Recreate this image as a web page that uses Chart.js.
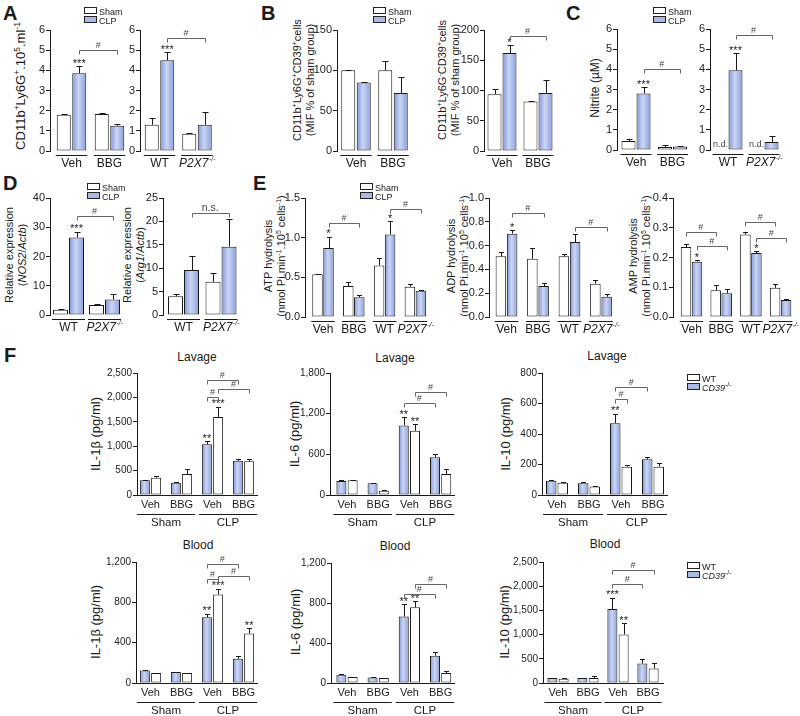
<!DOCTYPE html>
<html>
<head>
<meta charset="utf-8">
<title>Figure</title>
<script src="https://cdn.jsdelivr.net/npm/chart.js@4.4.1/dist/chart.umd.min.js"></script>
<style>
  body { margin:0; width:800px; height:716px; position:relative; overflow:hidden; background:#fff;
         font-family:"Liberation Sans", Arial, Helvetica, sans-serif; color:#1a1a1a; }
  canvas { position:absolute; }
  .lt { position:absolute; font-weight:bold; font-size:20px; line-height:20px; }
  .yt { position:absolute; transform:translate(-50%,-50%) rotate(-90deg); white-space:nowrap;
        font-size:11px; line-height:13px; text-align:center; }
  .yt sup, .lg sup { font-size:7px; vertical-align:4px; line-height:0; }
  .yt.big { font-size:13px; }
  .yt.big sup { font-size:8.5px; vertical-align:5px; }
  .tt { position:absolute; transform:translate(-50%,-50%); font-size:12px; white-space:nowrap; }
  .lg { position:absolute; font-size:9px; line-height:10px; white-space:nowrap; }
  .lg span { display:inline-block; width:11px; height:5px; border:1px solid #222; margin-right:2px; vertical-align:1px; }
</style>
</head>
<body>
<div class="lt" style="left:3px;top:3px">A</div>
<div class="lt" style="left:261px;top:3px">B</div>
<div class="lt" style="left:566px;top:3px">C</div>
<div class="lt" style="left:3px;top:173px">D</div>
<div class="lt" style="left:253px;top:173px">E</div>
<div class="lt" style="left:4px;top:345px">F</div>

<div class="yt big" style="left:20px;top:86px">CD11b<sup>+</sup>Ly6G<sup>+</sup>.10<sup>5</sup>.ml<sup>-1</sup></div>
<div class="yt" style="left:304px;top:80px">CD11b<sup>+</sup>Ly6G<sup>+</sup>CD39<sup>+</sup>cells<br>(MIF % of sham group)</div>
<div class="yt" style="left:449px;top:80px">CD11b<sup>+</sup>Ly6G<sup>-</sup>CD39<sup>+</sup>cells<br>(MIF % of sham group)</div>
<div class="yt" style="left:595px;top:88px;font-size:12px">Nitrite (µM)</div>
<div class="yt" style="left:16px;top:255px">Relative expression<br>(<i>NOS2</i>/<i>Actb</i>)</div>
<div class="yt" style="left:134px;top:255px">Relative expression<br>(<i>Arg1</i>/<i>Actb</i>)</div>
<div class="yt" style="left:275px;top:256px">ATP hydrolysis<br>(nmol Pi.min<sup>-1</sup>.10<sup>5</sup> cells<sup>-1</sup>)</div>
<div class="yt" style="left:458px;top:256px">ADP hydrolysis<br>(nmol Pi.min<sup>-1</sup>.10<sup>5</sup> cells<sup>-1</sup>)</div>
<div class="yt" style="left:640px;top:256px">AMP hydrolysis<br>(nmol Pi.min<sup>-1</sup>.10<sup>5</sup> cells<sup>-1</sup>)</div>
<div class="yt big" style="left:95px;top:434px">IL-1β (pg/ml)</div>
<div class="yt big" style="left:294px;top:434px">IL-6 (pg/ml)</div>
<div class="yt big" style="left:505px;top:434px">IL-10 (pg/ml)</div>
<div class="yt big" style="left:95px;top:622px">IL-1β (pg/ml)</div>
<div class="yt big" style="left:295px;top:622px">IL-6 (pg/ml)</div>
<div class="yt big" style="left:504px;top:622px">IL-10 (pg/ml)</div>

<div class="tt" style="left:197px;top:357px">Lavage</div>
<div class="tt" style="left:395px;top:358px">Lavage</div>
<div class="tt" style="left:607px;top:356px">Lavage</div>
<div class="tt" style="left:198px;top:545px">Blood</div>
<div class="tt" style="left:395px;top:546px">Blood</div>
<div class="tt" style="left:605px;top:544px">Blood</div>

<script>
// ---------- data ----------
const grpVB = ["Veh", "BBG"];
const grpKO = ["WT", "P2X7-/-"];
const grpE = ["Veh", "BBG", "WT", "P2X7-/-"];
const grpF = ["Veh", "BBG", "Veh", "BBG"];
const grpFOuter = ["Sham", "CLP"];

const ticksA = [0, 1, 2, 3, 4, 5, 6];
const ticksB1 = [0, 50, 100, 150];
const ticksB2 = [0, 50, 100, 150, 200];
const ticksD1 = [0, 10, 20, 30, 40];
const ticksD2 = [0, 5, 10, 15, 20, 25];
const ticksE1 = [0, 0.5, 1.0, 1.5];
const ticksE2 = [0, 0.2, 0.4, 0.6, 0.8, 1.0];
const ticksE3 = [0, 0.1, 0.2, 0.3, 0.4];
const ticksF2500 = [0, 500, 1000, 1500, 2000, 2500];
const ticksF1800 = [0, 600, 1200, 1800];
const ticksF800 = [0, 200, 400, 600, 800];
const ticksF1200 = [0, 400, 800, 1200];

// A
const a1Sham = [1.80, 1.83], a1ShamSd = [0.05, 0.03];
const a1Clp = [3.85, 1.25], a1ClpSd = [0.35, 0.08];
const a2Sham = [1.30, 0.85], a2ShamSd = [0.35, 0.03];
const a2Clp = [4.50, 1.30], a2ClpSd = [0.40, 0.62];
// B
const b1Sham = [100, 100], b1ShamSd = [0.5, 11];
const b1Clp = [85, 72], b1ClpSd = [1, 20];
const b2Sham = [94, 82], b2ShamSd = [8, 1];
const b2Clp = [162, 96], b2ClpSd = [13, 21];
// C (sham not detected in the knockout panel)
const c1Sham = [0.45, 0.15], c1ShamSd = [0.08, 0.10];
const c1Clp = [2.80, 0.17], c1ClpSd = [0.30, 0.05];
const c2Sham = [null, null];
const c2Clp = [3.95, 0.40], c2ClpSd = [0.85, 0.30];
// D
const d1Sham = [1.8, 3.4], d1ShamSd = [0.3, 0.3];
const d1Clp = [26.5, 5.3], d1ClpSd = [1.9, 1.9];
const d2Sham = [4.0, 7.1], d2ShamSd = [0.4, 1.9];
const d2Clp = [9.6, 14.6], d2ClpSd = [3.1, 6.0];
// E
const e1Sham = [0.54, 0.39, 0.65, 0.38], e1ShamSd = [0.005, 0.05, 0.09, 0.04];
const e1Clp = [0.87, 0.25, 1.04, 0.33], e1ClpSd = [0.14, 0.03, 0.17, 0.01];
const e2Sham = [0.51, 0.49, 0.51, 0.28], e2ShamSd = [0.035, 0.09, 0.02, 0.035];
const e2Clp = [0.70, 0.26, 0.63, 0.17], e2ClpSd = [0.03, 0.025, 0.07, 0.02];
const e3Sham = [0.235, 0.09, 0.277, 0.098], e3ShamSd = [0.01, 0.018, 0.008, 0.013];
const e3Clp = [0.186, 0.08, 0.215, 0.057], e3ClpSd = [0.005, 0.014, 0.006, 0.005];
// F  (CD39-/- first, WT second)
const f1Ko = [300, 250, 1040, 700], f1KoSd = [15, 15, 60, 30];
const f1Wt = [355, 430, 1600, 690], f1WtSd = [30, 110, 210, 50];
const f2Ko = [207, 173, 1026, 557], f2KoSd = [10, 8, 120, 55];
const f2Wt = [217, 64, 947, 310], f2WtSd = [8, 5, 95, 75];
const f3Ko = [94, 77, 471, 235], f3KoSd = [5, 10, 62, 15];
const f3Wt = [81, 55, 186, 186], f3WtSd = [3, 2, 8, 24];
const f4Ko = [125, 109, 651, 240], f4KoSd = [3, 3, 35, 25];
const f4Wt = [99, 99, 878, 490], f4WtSd = [3, 4, 55, 55];
const f5Ko = [82, 56, 664, 273], f5KoSd = [8, 3, 125, 40];
const f5Wt = [59, 49, 757, 99], f5WtSd = [3, 3, 60, 20];
const f6Ko = [104, 104, 1530, 402], f6KoSd = [5, 5, 235, 85];
const f6Wt = [90, 104, 1004, 298], f6WtSd = [5, 45, 230, 115];

// ---------- drawing helpers ----------
const FONT = '"Liberation Sans", Arial, Helvetica, sans-serif';
const BLUE = '#a9bae9';

function drawLabel(ctx, text, x, y, size) {
  ctx.textBaseline = 'middle';
  if (text.endsWith('-/-')) {
    const base = text.slice(0, -3);
    const s2 = Math.round(size * 0.6);
    ctx.font = 'italic ' + size + 'px ' + FONT;
    const w1 = ctx.measureText(base).width;
    ctx.font = 'italic ' + s2 + 'px ' + FONT;
    const w2 = ctx.measureText('-/-').width;
    const x0 = x - (w1 + w2) / 2;
    ctx.textAlign = 'left';
    ctx.font = 'italic ' + size + 'px ' + FONT;
    ctx.fillText(base, x0, y);
    ctx.font = 'italic ' + s2 + 'px ' + FONT;
    ctx.fillText('-/-', x0 + w1 + 0.5, y - size * 0.35);
  } else {
    ctx.textAlign = 'center';
    ctx.font = size + 'px ' + FONT;
    ctx.fillText(text, x, y);
  }
}

function decor(o) {
  return {
    id: 'decor',
    beforeDatasetsDraw(chart) {
      // shaded blue bars
      o.series.forEach((s, si) => {
        if (!s.blue) return;
        chart.getDatasetMeta(si).data.forEach(el => {
          if (!isFinite(el.x) || !isFinite(el.width)) return;
          const g = chart.ctx.createLinearGradient(el.x - el.width / 2, 0, el.x + el.width / 2, 0);
          g.addColorStop(0, '#7f94d4');
          g.addColorStop(0.45, '#cbd6f5');
          g.addColorStop(1, '#8a9edb');
          el.options = Object.assign({}, el.options, { backgroundColor: g });
        });
      });
    },
    afterDatasetsDraw(chart) {
      const ctx = chart.ctx, ys = chart.scales.y, area = chart.chartArea;
      const bar = (s, i) => chart.getDatasetMeta(s).data[i];
      const topPx = (s, i) => {
        const v = o.series[s].data[i] || 0;
        const e = (o.series[s].err || [])[i] || 0;
        return ys.getPixelForValue(v + e);
      };
      const cap = o.cap || 3;
      ctx.save();
      ctx.strokeStyle = '#1a1a1a';
      ctx.fillStyle = '#1a1a1a';
      ctx.lineWidth = 1;

      // error bars (upper only)
      o.series.forEach((s, si) => s.data.forEach((v, i) => {
        if (v == null || !s.err || !s.err[i]) return;
        const el = bar(si, i);
        const xc = Math.round(el.x) + 0.5;
        const yt = Math.round(topPx(si, i)) + 0.5;
        ctx.beginPath();
        ctx.moveTo(xc, el.y); ctx.lineTo(xc, yt);
        ctx.moveTo(xc - cap, yt); ctx.lineTo(xc + cap, yt);
        ctx.stroke();
      }));

      // n.d. markers
      o.series.forEach((s, si) => s.data.forEach((v, i) => {
        if (v != null || !o.nd) return;
        const el = bar(si, i);
        ctx.font = '9px ' + FONT; ctx.textAlign = 'center'; ctx.textBaseline = 'alphabetic';
        ctx.fillStyle = '#444';
        ctx.fillText('n.d.', el.x, area.bottom - 3);
        ctx.fillStyle = '#1a1a1a';
      }));

      // significance stars
      (o.stars || []).forEach(([s, i, t]) => {
        const el = bar(s, i);
        ctx.font = '11px ' + FONT; ctx.textAlign = 'center'; ctx.textBaseline = 'alphabetic';
        ctx.fillText(t, el.x, topPx(s, i) + 0.5);
      });

      // comparison brackets
      (o.brackets || []).forEach(b => {
        const e1 = bar(b.a[0], b.a[1]), e2 = bar(b.b[0], b.b[1]);
        const yy = Math.round(ys.getPixelForValue(b.v)) + 0.5;
        ctx.strokeStyle = '#666';
        ctx.beginPath();
        ctx.moveTo(Math.round(e1.x) + 0.5, yy + 4); ctx.lineTo(Math.round(e1.x) + 0.5, yy);
        ctx.lineTo(Math.round(e2.x) + 0.5, yy); ctx.lineTo(Math.round(e2.x) + 0.5, yy + 4);
        ctx.stroke();
        ctx.fillStyle = '#444';
        ctx.font = (b.t === '#' ? 9 : 10.5) + 'px ' + FONT;
        ctx.textAlign = 'center'; ctx.textBaseline = 'alphabetic';
        ctx.fillText(b.t, (e1.x + e2.x) / 2, yy - 3);
      });

      // x axis labels and group lines
      ctx.strokeStyle = '#1a1a1a'; ctx.fillStyle = '#1a1a1a';
      const last = o.series.length - 1;
      const yb = Math.round(area.bottom) + 0.5;
      if (o.f) {
        ctx.beginPath(); ctx.moveTo(area.left, yb); ctx.lineTo(area.right, yb); ctx.stroke();
      }
      o.cats.forEach((c, i) => {
        const l = bar(0, i), r = bar(last, i);
        const x1 = l.x - l.width / 2 - 1, x2 = r.x + r.width / 2 + 1;
        if (!o.f) {
          ctx.beginPath(); ctx.moveTo(x1, yb + 4); ctx.lineTo(x2, yb + 4); ctx.stroke();
          drawLabel(ctx, c, (l.x + r.x) / 2, area.bottom + 12.5, 12);
        } else {
          drawLabel(ctx, c, (l.x + r.x) / 2, area.bottom + 10, 11);
        }
      });
      if (o.f) {
        o.outer.forEach((g, k) => {
          const l = bar(0, 2 * k), r = bar(last, 2 * k + 1);
          const x1 = l.x - l.width / 2 - 3, x2 = r.x + r.width / 2 + 3;
          ctx.beginPath(); ctx.moveTo(x1, yb + 19); ctx.lineTo(x2, yb + 19); ctx.stroke();
          drawLabel(ctx, g, (x1 + x2) / 2, area.bottom + 28, 11.5);
        });
      }
      ctx.restore();
    }
  };
}

function mk(o) {
  const PL = 46, PT = 34, PR = 8, PB = 38;
  const areaW = Math.round(o.right - o.x);
  const w = areaW + PL + PR, h = (o.bot - o.top) + PT + PB;
  const cv = document.createElement('canvas');
  cv.width = w; cv.height = h;
  cv.style.left = (o.x - PL) + 'px';
  cv.style.top = (o.top - PT) + 'px';
  document.body.appendChild(cv);
  const xmin = -(o.cx0 - o.x) / o.pitch;
  const xmax = xmin + areaW / o.pitch;
  const grp = 2 * o.barW + o.gap;
  const fmt = o.fmt || (v => String(v));
  const datasets = o.series.map(s => ({
    data: s.data.map((v, i) => ({ x: i, y: v })),
    backgroundColor: s.blue ? BLUE : '#ffffff',
    borderColor: '#1a1a1a',
    borderWidth: 1,
    borderSkipped: false,
    categoryPercentage: grp / o.pitch,
    barPercentage: o.barW / (grp / 2)
  }));
  new Chart(cv, {
    type: 'bar',
    data: { datasets },
    options: {
      responsive: false, animation: false, devicePixelRatio: 1, events: [],
      layout: { padding: { left: 0, top: PT, right: PR, bottom: PB } },
      plugins: { legend: { display: false }, tooltip: { enabled: false } },
      scales: {
        x: {
          type: 'linear', display: false, offset: false, min: xmin, max: xmax,
          afterBuildTicks: s => { s.ticks = o.cats.map((c, i) => ({ value: i })); }
        },
        y: {
          min: 0, max: o.ymax,
          afterFit: s => { s.width = PL; },
          afterBuildTicks: s => { s.ticks = o.ticks.map(v => ({ value: v })); },
          border: { display: true, color: '#1a1a1a', width: 1 },
          grid: { display: true, drawOnChartArea: false, drawTicks: true, tickLength: 4, color: '#1a1a1a', lineWidth: 1 },
          ticks: { font: { family: FONT, size: o.tf || 11 }, color: '#222', padding: 1, callback: v => fmt(v) }
        }
      }
    },
    plugins: [decor(o)]
  });
}

function legend(x, y, rows, size) {
  rows.forEach((r, k) => {
    const d = document.createElement('div');
    d.className = 'lg';
    d.style.left = x + 'px';
    d.style.top = (y + k * 9 - 5) + 'px';
    d.style.fontSize = size + 'px';
    d.innerHTML = '<span style="background:' + (r.blue ? BLUE : '#fff') + '"></span>' + r.label;
    document.body.appendChild(d);
  });
}

const sh = (d, e) => ({ data: d, err: e, blue: false });
const cl = (d, e) => ({ data: d, err: e, blue: true });
const dec1 = v => v.toFixed(1);
const thou = v => v.toLocaleString('en-US');

// ---------- A ----------
mk({ x: 50, top: 30, bot: 151, right: 128, cx0: 71.5, pitch: 38, barW: 14, gap: 3,
     ymax: 6, ticks: ticksA, cats: grpVB,
     series: [sh(a1Sham, a1ShamSd), cl(a1Clp, a1ClpSd)],
     stars: [[1, 0, '***']], brackets: [{ a: [1, 0], b: [1, 1], v: 5.0, t: '#' }] });
mk({ x: 140, top: 30, bot: 151, right: 216, cx0: 159.5, pitch: 37.5, barW: 14, gap: 3,
     ymax: 6, ticks: ticksA, cats: grpKO,
     series: [sh(a2Sham, a2ShamSd), cl(a2Clp, a2ClpSd)],
     stars: [[1, 0, '***']], brackets: [{ a: [1, 0], b: [1, 1], v: 5.6, t: '#' }] });
// ---------- B ----------
mk({ x: 337, top: 30, bot: 151, right: 411, cx0: 356, pitch: 37, barW: 14, gap: 3,
     ymax: 150, ticks: ticksB1, cats: grpVB,
     series: [sh(b1Sham, b1ShamSd), cl(b1Clp, b1ClpSd)] });
mk({ x: 484, top: 30, bot: 151, right: 556, cx0: 502, pitch: 36, barW: 14, gap: 2,
     ymax: 200, ticks: ticksB2, cats: grpVB,
     series: [sh(b2Sham, b2ShamSd), cl(b2Clp, b2ClpSd)],
     stars: [[1, 0, '*']], brackets: [{ a: [1, 0], b: [1, 1], v: 190, t: '#' }] });
// ---------- C ----------
mk({ x: 617, top: 29, bot: 150, right: 691, cx0: 636, pitch: 36.5, barW: 14, gap: 2,
     ymax: 6, ticks: ticksA, cats: grpVB,
     series: [sh(c1Sham, c1ShamSd), cl(c1Clp, c1ClpSd)],
     stars: [[1, 0, '***']], brackets: [{ a: [1, 0], b: [1, 1], v: 4.0, t: '#' }] });
mk({ x: 710, top: 29, bot: 150, right: 782, cx0: 728, pitch: 36, barW: 14, gap: 2, nd: true,
     ymax: 6, ticks: ticksA, cats: grpKO,
     series: [sh(c2Sham, null), cl(c2Clp, c2ClpSd)],
     stars: [[1, 0, '***']], brackets: [{ a: [1, 0], b: [1, 1], v: 5.7, t: '#' }] });
// ---------- D ----------
mk({ x: 50, top: 198, bot: 315, right: 123, cx0: 68.5, pitch: 36, barW: 15, gap: 2,
     ymax: 40, ticks: ticksD1, cats: grpKO,
     series: [sh(d1Sham, d1ShamSd), cl(d1Clp, d1ClpSd)],
     stars: [[1, 0, '***']], brackets: [{ a: [1, 0], b: [1, 1], v: 34, t: '#' }] });
mk({ x: 163, top: 198, bot: 315, right: 240, cx0: 183.5, pitch: 37.5, barW: 15, gap: 2,
     ymax: 25, ticks: ticksD2, cats: grpKO,
     series: [sh(d2Sham, d2ShamSd), cl(d2Clp, d2ClpSd)],
     brackets: [{ a: [1, 0], b: [1, 1], v: 21.8, t: 'n.s.' }] });
// ---------- E ----------
mk({ x: 305, top: 198, bot: 317, right: 430, cx0: 323, pitch: 30.8, barW: 10.5, gap: 1, cap: 2.5,
     ymax: 1.5, ticks: ticksE1, cats: grpE, fmt: dec1,
     series: [sh(e1Sham, e1ShamSd), cl(e1Clp, e1ClpSd)],
     stars: [[1, 0, '*'], [1, 2, '*']],
     brackets: [{ a: [1, 0], b: [1, 1], v: 1.18, t: '#' }, { a: [1, 2], b: [1, 3], v: 1.36, t: '#' }] });
mk({ x: 489, top: 198, bot: 317, right: 615, cx0: 506.5, pitch: 31.5, barW: 10.5, gap: 1.5, cap: 2.5,
     ymax: 1.0, ticks: ticksE2, cats: grpE, fmt: dec1,
     series: [sh(e2Sham, e2ShamSd), cl(e2Clp, e2ClpSd)],
     stars: [[1, 0, '*']],
     brackets: [{ a: [1, 0], b: [1, 1], v: 0.875, t: '#' }, { a: [1, 2], b: [1, 3], v: 0.76, t: '#' }] });
mk({ x: 673, top: 198, bot: 317, right: 796, cx0: 691.5, pitch: 29.7, barW: 10.5, gap: 1, cap: 2.5,
     ymax: 0.4, ticks: ticksE3, cats: grpE, fmt: dec1,
     series: [sh(e3Sham, e3ShamSd), cl(e3Clp, e3ClpSd)],
     stars: [[1, 0, '*'], [1, 2, '*']],
     brackets: [{ a: [0, 0], b: [0, 1], v: 0.285, t: '#' }, { a: [1, 0], b: [1, 1], v: 0.237, t: '#' },
                { a: [0, 2], b: [0, 3], v: 0.319, t: '#' }, { a: [1, 2], b: [1, 3], v: 0.264, t: '#' }] });
// ---------- F : lavage ----------
mk({ x: 137, top: 373, bot: 495, right: 258, cx0: 150.5, pitch: 31, barW: 10, gap: 2.5, cap: 2.5, f: true,
     ymax: 2500, ticks: ticksF2500, cats: grpF, outer: grpFOuter, fmt: thou, tf: 10,
     series: [cl(f1Ko, f1KoSd), sh(f1Wt, f1WtSd)],
     stars: [[0, 2, '**'], [1, 2, '***']],
     brackets: [{ a: [0, 2], b: [0, 3], v: 2357, t: '#' }, { a: [0, 2], b: [1, 2], v: 2008, t: '#' },
                { a: [1, 2], b: [1, 3], v: 2172, t: '#' }] });
mk({ x: 330, top: 373, bot: 495, right: 455, cx0: 347, pitch: 31.2, barW: 10, gap: 2.5, cap: 2.5, f: true,
     ymax: 1800, ticks: ticksF1800, cats: grpF, outer: grpFOuter, fmt: thou, tf: 10,
     series: [cl(f2Ko, f2KoSd), sh(f2Wt, f2WtSd)],
     stars: [[0, 2, '**'], [1, 2, '**']],
     brackets: [{ a: [0, 2], b: [0, 3], v: 1357, t: '#' }, { a: [1, 2], b: [1, 3], v: 1520, t: '#' }] });
mk({ x: 542, top: 373, bot: 495, right: 668, cx0: 557, pitch: 32, barW: 10.5, gap: 2, cap: 2.5, f: true,
     ymax: 800, ticks: ticksF800, cats: grpF, outer: grpFOuter, fmt: thou, tf: 10,
     series: [cl(f3Ko, f3KoSd), sh(f3Wt, f3WtSd)],
     stars: [[0, 2, '**']],
     brackets: [{ a: [0, 2], b: [0, 3], v: 708, t: '#' }, { a: [0, 2], b: [1, 2], v: 630, t: '#' }] });
// ---------- F : blood ----------
mk({ x: 136, top: 562, bot: 683, right: 258, cx0: 150.5, pitch: 31, barW: 10, gap: 2.5, cap: 2.5, f: true,
     ymax: 1200, ticks: ticksF1200, cats: grpF, outer: grpFOuter, fmt: thou, tf: 10,
     series: [cl(f4Ko, f4KoSd), sh(f4Wt, f4WtSd)],
     stars: [[0, 2, '**'], [1, 2, '***'], [1, 3, '**']],
     brackets: [{ a: [0, 2], b: [0, 3], v: 1180, t: '#' }, { a: [0, 2], b: [1, 2], v: 1031, t: '#' },
                { a: [1, 2], b: [1, 3], v: 1061, t: '#' }] });
mk({ x: 331, top: 563, bot: 683, right: 455, cx0: 347, pitch: 31.2, barW: 10, gap: 2.5, cap: 2.5, f: true,
     ymax: 1200, ticks: ticksF1200, cats: grpF, outer: grpFOuter, fmt: thou, tf: 10,
     series: [cl(f5Ko, f5KoSd), sh(f5Wt, f5WtSd)],
     stars: [[0, 2, '**'], [1, 2, '**']],
     brackets: [{ a: [0, 2], b: [0, 3], v: 890, t: '#' }, { a: [1, 2], b: [1, 3], v: 990, t: '#' }] });
mk({ x: 543, top: 562, bot: 683, right: 664, cx0: 558, pitch: 30, barW: 10, gap: 2.5, cap: 2.5, f: true,
     ymax: 2500, ticks: ticksF2500, cats: grpF, outer: grpFOuter, fmt: thou, tf: 10,
     series: [cl(f6Ko, f6KoSd), sh(f6Wt, f6WtSd)],
     stars: [[0, 2, '***'], [1, 2, '**']],
     brackets: [{ a: [0, 2], b: [1, 3], v: 2335, t: '#' }, { a: [0, 2], b: [0, 3], v: 2045, t: '#' }] });

// ---------- legends ----------
const legSC = [{ label: 'Sham', blue: false }, { label: 'CLP', blue: true }];
const legF = [{ label: 'WT', blue: false }, { label: '<i>CD39</i><sup>-/-</sup>', blue: true }];
legend(84, 12, legSC, 9);
legend(373, 12, legSC, 9);
legend(653, 12, legSC, 9);
legend(87, 188, legSC, 9);
legend(360, 188, legSC, 9);
legend(687, 379, legF, 9);
legend(687, 567, legF, 9);
</script>
</body>
</html>
